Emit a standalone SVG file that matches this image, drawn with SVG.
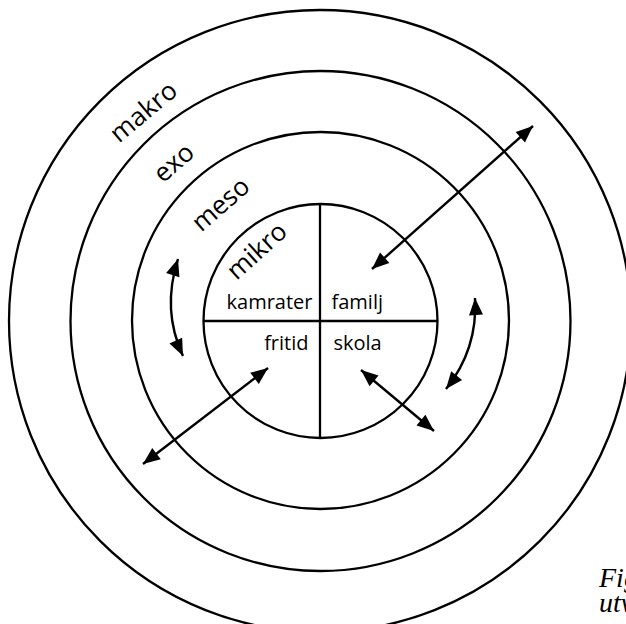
<svg xmlns="http://www.w3.org/2000/svg" width="626" height="624" viewBox="0 0 626 624">
  <defs>
    <marker id="ah" viewBox="-1 -8 19 16" markerUnits="userSpaceOnUse" markerWidth="19" markerHeight="16" refX="17" refY="0" orient="auto-start-reverse">
      <path d="M0,-7 L17,0 L0,7 z" fill="#000"/>
    </marker>
  </defs>
  <style>
    .ring { fill: none; stroke: #000; stroke-width: 2.3; }
    .div { stroke: #000; stroke-width: 2.3; }
    .arr { fill: none; stroke: #000; stroke-width: 2.4; marker-start: url(#ah); marker-end: url(#ah); }
    .lvl { font-family: "Open Sans", "Noto Sans", sans-serif; font-size: 26px; fill: #000; text-anchor: middle; }
    .lbl { font-family: "Open Sans", "Noto Sans", sans-serif; font-size: 20px; fill: #000; }
    .cap { font-family: "Liberation Serif", serif; font-style: italic; font-size: 28px; fill: #000; }
  </style>
  <rect width="626" height="624" fill="#fff"/>

  <g id="makro">
    <circle class="ring" cx="320" cy="321" r="311"/>
    <text class="lvl" transform="translate(143.3,111.7) rotate(-40)" x="0" y="9">makro</text>
  </g>
  <g id="exo">
    <circle class="ring" cx="320.5" cy="321" r="250"/>
    <text class="lvl" transform="translate(175,164) rotate(-41)" x="0" y="7">exo</text>
  </g>
  <g id="meso">
    <circle class="ring" cx="320.5" cy="320.5" r="188.5"/>
    <text class="lvl" transform="translate(221.7,205.7) rotate(-41)" x="0" y="7">meso</text>
  </g>
  <g id="mikro">
    <circle class="ring" cx="320.5" cy="321" r="117"/>
    <line class="div" x1="320" y1="204" x2="320" y2="438"/>
    <line class="div" x1="203.5" y1="321" x2="437.5" y2="321"/>
    <text class="lvl" transform="translate(256.7,250.7) rotate(-42)" x="0" y="9">mikro</text>
  </g>
  <g id="kamrater"><text class="lbl" x="312.5" y="309" text-anchor="end">kamrater</text></g>
  <g id="familj"><text class="lbl" x="331.5" y="309">familj</text></g>
  <g id="fritid"><text class="lbl" x="308.5" y="350" text-anchor="end">fritid</text></g>
  <g id="skola"><text class="lbl" x="333.5" y="350">skola</text></g>

  <g id="connectors">
    <line class="arr" x1="372" y1="269" x2="533" y2="126"/>
    <line class="arr" x1="268" y1="368" x2="143" y2="464"/>
    <line class="arr" x1="361" y1="370" x2="434" y2="431"/>
    <path class="arr" d="M178,259 Q161.5,310 183,356"/>
    <path class="arr" d="M475,298 Q478,349 446,389"/>
  </g>

  <g id="caption">
    <text class="cap" x="599" y="587">Fig</text>
    <text class="cap" x="599" y="612">utv</text>
  </g>
</svg>
